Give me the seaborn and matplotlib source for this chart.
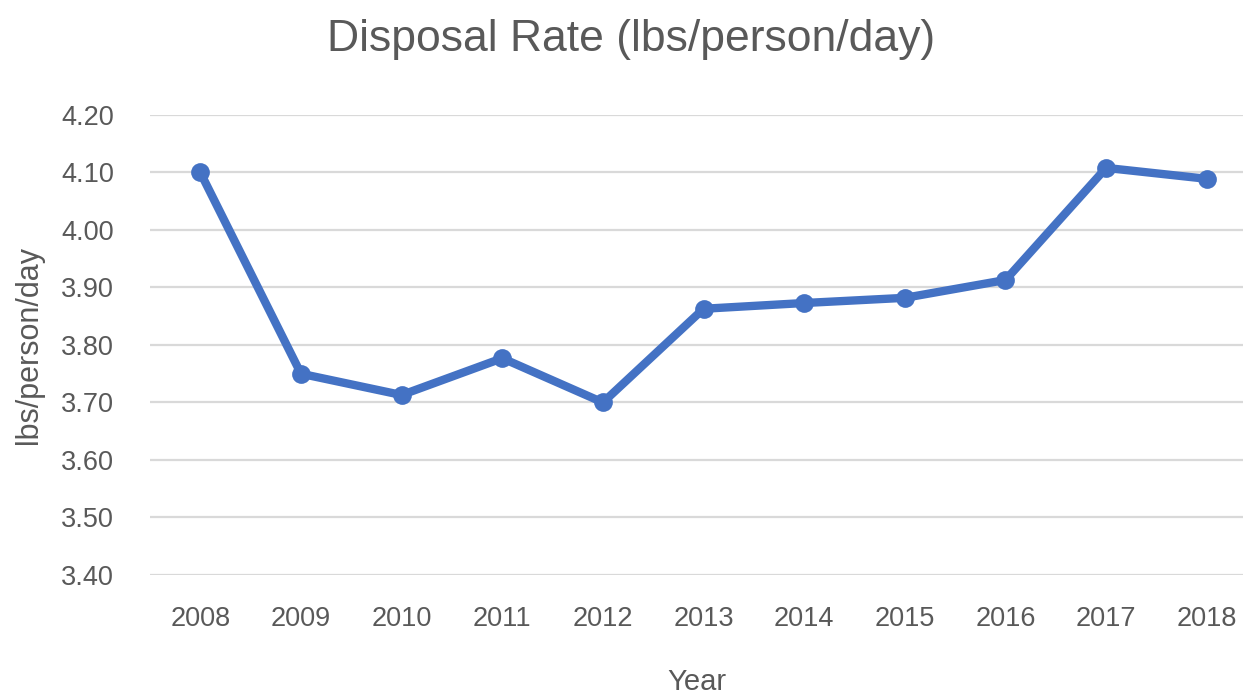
import numpy as np
import pandas as pd
import seaborn as sns
import matplotlib
matplotlib.use("Agg")
import matplotlib.pyplot as plt

# values
years = ["2008", "2009", "2010", "2011", "2012", "2013", "2014", "2015", "2016", "2017", "2018"]
rate = [4.10, 3.75, 3.713, 3.777, 3.70, 3.863, 3.873, 3.882, 3.913, 4.108, 4.089]
yticks = [3.40, 3.50, 3.60, 3.70, 3.80, 3.90, 4.00, 4.10, 4.20]

df = pd.DataFrame({"Year": years, "Rate": rate})

sns.set_theme(style="white")
plt.rcParams["font.family"] = ["Liberation Sans", "DejaVu Sans"]

text_col = "#595959"
line_col = "#4472C4"

fig = plt.figure(figsize=(12.43, 6.94), dpi=100)
ax = fig.add_axes([0.1207, 0.1715, 0.8793, 0.6628])

x = np.arange(len(years))
sns.lineplot(x=x, y=df["Rate"], ax=ax, color=line_col, linewidth=6,
             marker="o", markersize=13.5, markeredgewidth=0, zorder=3)

ax.set_ylim(3.40, 4.20)
ax.set_yticks(yticks)
ax.set_yticklabels([f"{v:.2f}" for v in yticks])
ax.set_xlim(-0.5, len(years) - 0.64)
ax.set_xticks(x)
ax.set_xticklabels(years)

ax.grid(axis="y", color="#D9D9D9", linewidth=1.6)
ax.grid(axis="x", visible=False)
ax.set_axisbelow(True)
for s in ax.spines.values():
    s.set_visible(False)

ax.tick_params(axis="both", length=0, labelsize=19.5, labelcolor=text_col)
ax.tick_params(axis="y", pad=26)
ax.tick_params(axis="x", pad=22)

ax.set_xlabel("Year", fontsize=21, color=text_col, labelpad=26)
ax.set_ylabel("lbs/person/day", fontsize=22, color=text_col, labelpad=12)

fig.suptitle("Disposal Rate (lbs/person/day)", fontsize=32, color=text_col,
             x=0.508, y=0.972)

fig.savefig("out.png", dpi=100)
